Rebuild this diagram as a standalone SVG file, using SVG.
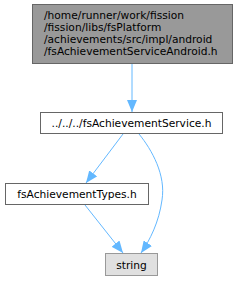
<svg xmlns="http://www.w3.org/2000/svg" width="237" height="281" viewBox="0 0 237 281">
<defs>
<marker id="ah" viewBox="0 0 12 10" refX="12" refY="5" markerWidth="12" markerHeight="10" markerUnits="userSpaceOnUse" orient="auto">
<path d="M0,0 L12,5 L0,10 Z" fill="#63b8ff"/>
</marker>
</defs>
<style>
text{font-family:"DejaVu Sans",sans-serif;font-size:10.67px;fill:#000}
.e{fill:none;stroke:#63b8ff;stroke-width:1;marker-end:url(#ah)}
</style>
<rect width="237" height="281" fill="#fff"/>
<g id="connectors">
<path class="e" d="M132,64 L132,112"/>
<path class="e" d="M123,134 L86,183"/>
<path class="e" d="M139,134 C152,150 166,175 162,200 C159,222 150,240 141,253"/>
<path class="e" d="M85,205 L123,253"/>
</g>
<g id="n1">
<rect x="32.5" y="4.5" width="200" height="59" fill="#999999" stroke="#666666"/>
<text x="44" y="18.5">/home/runner/work/fission</text>
<text x="44" y="30.5">/fission/libs/fsPlatform</text>
<text x="44" y="42.5">/achievements/src/impl/android</text>
<text x="44" y="54.5">/fsAchievementServiceAndroid.h</text>
</g>
<g id="n2">
<rect x="40.5" y="112.5" width="182" height="21" fill="#fff" stroke="#666666"/>
<text x="131.5" y="127" text-anchor="middle">../../../fsAchievementService.h</text>
</g>
<g id="n3">
<rect x="5.5" y="183.5" width="143" height="21" fill="#fff" stroke="#666666"/>
<text x="77" y="198" text-anchor="middle">fsAchievementTypes.h</text>
</g>
<g id="n4">
<rect x="105.5" y="253.5" width="52" height="22" fill="#e0e0e0" stroke="#999999"/>
<text x="131.5" y="268.5" text-anchor="middle">string</text>
</g>
</svg>
